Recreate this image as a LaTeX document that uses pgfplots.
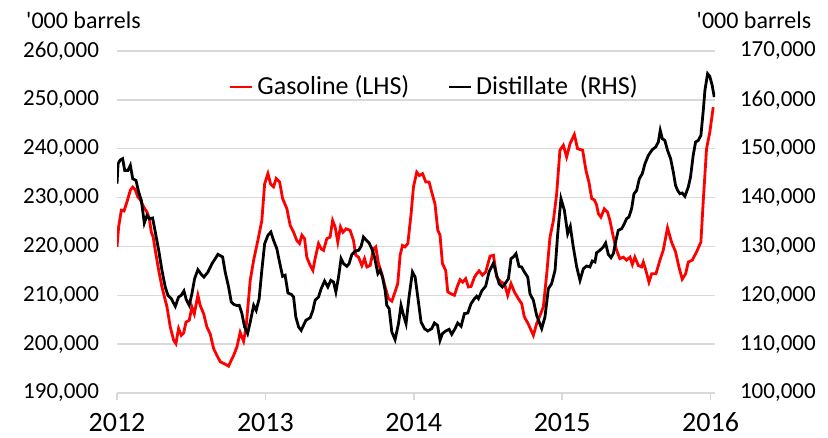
\documentclass[border=0pt]{standalone}
\usepackage{pgfplots}
\pgfplotsset{compat=1.18}
\usepackage{fontspec}
\setmainfont{Carlito}
\definecolor{gridgray}{RGB}{217,217,217}

\pgfplotstableread{
t v
0.000 219900
0.011 223970
0.029 227400
0.047 227250
0.067 229100
0.090 231500
0.106 232150
0.123 231600
0.141 230100
0.157 229550
0.180 228060
0.202 227040
0.218 225680
0.231 222950
0.244 221900
0.258 219200
0.281 215100
0.303 211700
0.337 207600
0.359 203500
0.382 200800
0.397 200100
0.415 203200
0.433 201800
0.449 202300
0.465 204500
0.487 204900
0.505 207600
0.521 206200
0.545 210000
0.561 207900
0.584 206200
0.606 203500
0.628 202100
0.651 199100
0.673 197700
0.696 196400
0.729 195900
0.752 195500
0.770 196700
0.786 197700
0.808 199400
0.830 202400
0.853 200600
0.870 203500
0.898 213100
0.921 217200
0.949 221200
0.976 225300
0.995 232800
1.017 234900
1.035 232800
1.055 232200
1.073 233900
1.096 233200
1.116 229800
1.145 227700
1.167 224300
1.190 222900
1.212 221200
1.230 220600
1.246 222300
1.264 221600
1.279 217800
1.302 216100
1.320 215100
1.335 217500
1.358 220600
1.376 219500
1.392 219200
1.414 221600
1.436 221900
1.453 225300
1.470 224000
1.488 220900
1.506 224000
1.522 222900
1.544 223600
1.571 223300
1.594 221200
1.609 218200
1.628 217800
1.650 216100
1.668 217500
1.684 215800
1.706 216100
1.729 219500
1.744 219900
1.762 216500
1.785 214400
1.807 211700
1.830 209300
1.852 208800
1.874 210700
1.892 212400
1.908 218200
1.924 220200
1.941 219900
1.960 220600
1.982 226700
1.998 232200
2.020 235200
2.038 234500
2.059 234900
2.081 233200
2.103 233200
2.121 231100
2.143 228700
2.162 223300
2.177 222300
2.193 216500
2.215 215100
2.229 210700
2.251 210300
2.274 210000
2.292 211700
2.312 213200
2.330 212700
2.350 213400
2.368 211700
2.386 211800
2.409 213700
2.424 214400
2.440 215000
2.463 214100
2.485 214800
2.514 218000
2.537 218200
2.559 213700
2.588 212700
2.611 212400
2.633 210000
2.655 212400
2.678 210700
2.705 209300
2.727 208300
2.745 205600
2.772 204100
2.806 201800
2.828 204200
2.851 205900
2.873 207600
2.896 214400
2.918 221900
2.941 225300
2.963 230800
2.985 239700
3.008 240700
3.030 238300
3.053 241000
3.082 242900
3.104 240000
3.138 239700
3.160 235600
3.180 233200
3.199 229800
3.217 229500
3.232 228500
3.244 226700
3.261 226000
3.284 227700
3.306 227000
3.322 225300
3.345 221900
3.367 219200
3.389 217500
3.412 217800
3.434 217200
3.457 217800
3.473 216300
3.490 217800
3.513 216100
3.535 215800
3.547 216800
3.564 215100
3.585 212700
3.603 214400
3.632 214400
3.659 217200
3.681 219200
3.710 223800
3.737 220900
3.764 218900
3.787 215800
3.809 213300
3.832 214400
3.850 216800
3.877 217200
3.906 218900
3.935 220900
3.951 229400
3.973 240000
3.995 243400
4.018 248500
}\gasoline

\pgfplotstableread{
t v
0.000 142840
0.007 146900
0.022 147700
0.038 147950
0.052 145570
0.074 145570
0.090 146600
0.106 143860
0.128 143520
0.146 141130
0.164 139430
0.173 137380
0.184 134790
0.202 136360
0.218 135680
0.240 135820
0.258 132950
0.281 129200
0.303 125100
0.325 121700
0.343 120000
0.366 119300
0.393 117740
0.415 119650
0.433 120000
0.451 120880
0.467 119100
0.487 117950
0.505 120330
0.523 123400
0.545 125240
0.568 124290
0.586 123740
0.613 124770
0.640 126470
0.662 127500
0.680 128380
0.712 127840
0.729 124770
0.752 121700
0.770 118630
0.786 118150
0.808 117900
0.824 117950
0.842 116240
0.860 113510
0.880 112150
0.898 114540
0.921 117950
0.938 116900
0.958 119310
0.976 125100
0.995 130560
1.017 132270
1.037 132950
1.055 131250
1.077 129540
1.093 127150
1.116 123880
1.133 124100
1.152 120470
1.174 120200
1.190 119650
1.205 115560
1.224 113510
1.241 112830
1.257 113850
1.273 114880
1.302 115420
1.320 116900
1.335 118970
1.358 119650
1.376 121350
1.399 122920
1.421 121700
1.441 123060
1.459 122720
1.475 120670
1.493 123740
1.510 127500
1.527 126470
1.549 125930
1.564 126470
1.582 128300
1.605 129070
1.628 129200
1.645 130020
1.661 131930
1.677 131390
1.699 130700
1.717 129540
1.735 127840
1.758 124430
1.773 125110
1.789 123740
1.807 121010
1.818 117950
1.834 117260
1.852 112490
1.874 110920
1.897 114190
1.914 117950
1.931 115910
1.948 114190
1.968 119650
1.991 124770
2.009 123740
2.027 119650
2.049 114530
2.072 113170
2.094 112690
2.121 113170
2.139 114330
2.160 113850
2.177 110790
2.193 112150
2.215 112690
2.238 113040
2.256 112010
2.278 113170
2.296 114330
2.319 113650
2.341 116240
2.364 116380
2.386 118290
2.409 119310
2.424 119790
2.436 119310
2.458 120880
2.485 121900
2.507 124770
2.537 126610
2.559 124090
2.575 122380
2.597 121700
2.615 122380
2.638 123400
2.655 127500
2.671 127840
2.689 128520
2.709 125930
2.727 125790
2.745 124770
2.768 123740
2.783 120330
2.806 118970
2.828 115900
2.862 113170
2.884 115560
2.907 121350
2.929 122380
2.952 125110
2.970 132610
2.992 139770
3.015 137380
3.037 132610
3.055 134110
3.075 129880
3.098 125790
3.120 123060
3.143 125450
3.165 125990
3.187 125790
3.203 127020
3.221 126810
3.232 128700
3.254 129200
3.277 129880
3.293 130700
3.311 128380
3.329 127700
3.345 128520
3.360 130900
3.378 133290
3.401 133630
3.419 134650
3.434 135680
3.450 136020
3.468 137720
3.484 140790
3.502 141470
3.520 143860
3.540 144890
3.558 146930
3.581 148640
3.607 149800
3.630 150340
3.648 151360
3.661 153750
3.675 152050
3.692 151700
3.710 149660
3.731 147950
3.749 145230
3.764 142500
3.778 141470
3.793 140790
3.809 140930
3.827 140250
3.850 142160
3.865 144200
3.883 148640
3.899 151360
3.917 151700
3.935 152730
3.951 157840
3.962 161930
3.980 165350
3.995 164800
4.011 162960
4.025 160570
}\distillate

\begin{document}
\begin{tikzpicture}
\path[use as bounding box] (-58.5pt,-22.5pt) rectangle (355.5pt,196.5pt);
\pgfplotsset{
  every axis/.append style={
    scale only axis, width=299pt, height=171pt,
    xmin=0, xmax=4.03,
    scaled y ticks=false,
    /pgf/number format/assume math mode=true,
    yticklabel style={/pgf/number format/fixed, /pgf/number format/1000 sep={,}, font=\fontsize{11.5}{12}\selectfont},
  }
}
\begin{axis}[
  ymin=190000, ymax=260000,
  ytick={190000,200000,...,260000},
  axis x line*=bottom, axis y line*=left,
  y axis line style={draw=none},
  ytick style={draw=none},
  x axis line style={gridgray, line width=0.75pt},
  xtick={0,1,2,3,4},
  xticklabels={2012,2013,2014,2015,2016},
  xticklabel style={font=\fontsize{14}{15}\selectfont, yshift=-3pt},
  xtick style={gridgray, line width=0.75pt},
  tick align=outside, major tick length=3.5pt,
  ymajorgrids, grid style={gridgray, line width=0.75pt},
  yticklabel style={xshift=-2pt},
]
\addplot[red, line width=1.4pt] table[x=t,y=v] {\gasoline};
\end{axis}
\begin{axis}[
  ymin=100000, ymax=170000,
  ytick={100000,110000,...,170000},
  axis x line=none, axis y line*=right,
  y axis line style={draw=none},
  ytick style={draw=none},
  yticklabel style={xshift=9pt},
  legend style={at={(0.186,0.895)}, anchor=west, draw=none, fill=none,
    font=\fontsize{13}{14}\selectfont, inner sep=0pt,
    /tikz/every even column/.append style={column sep=17pt}},
  legend columns=2,
  legend image code/.code={\draw[#1] (0pt,0pt) -- (11pt,0pt);},
]
\addlegendimage{red, line width=1.4pt}
\addlegendentry{Gasoline (LHS)}
\addplot[black, line width=1.4pt] table[x=t,y=v] {\distillate};
\addlegendentry{Distillate\ \ (RHS)}
\end{axis}
\node[font=\fontsize{12}{13}\selectfont] at (-16.75pt,186.5pt) {\textquotesingle 000 barrels};
\node[font=\fontsize{12}{13}\selectfont] at (318.5pt,186.5pt) {\textquotesingle 000 barrels};
\end{tikzpicture}
\end{document}
